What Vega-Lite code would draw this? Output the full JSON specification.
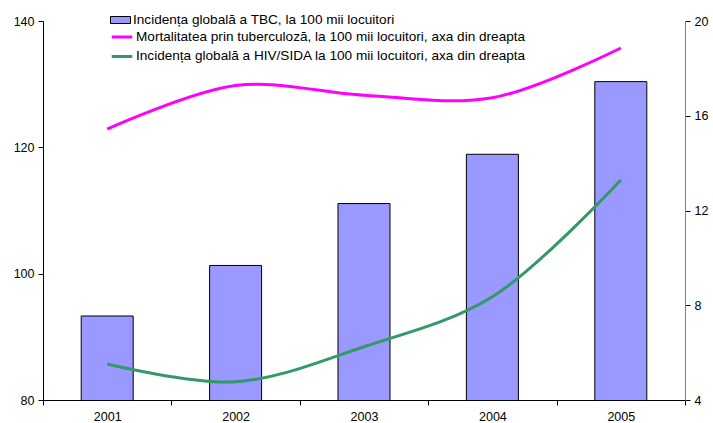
{
  "$schema": "https://vega.github.io/schema/vega-lite/v6.json",
  "width": 642,
  "height": 379,
  "autosize": "none",
  "padding": {"left": 43, "top": 21, "right": 28, "bottom": 23},
  "background": "white",
  "config": {
    "font": "Liberation Sans",
    "view": {"stroke": null},
    "axis": {
      "labelFont": "Liberation Sans",
      "labelFontSize": 12.5,
      "labelColor": "#000",
      "grid": false,
      "domainColor": "#000",
      "tickColor": "#000",
      "title": null
    },
    "legend": {"labelFont": "Liberation Sans", "labelFontSize": 13.6, "labelColor": "#000", "labelLimit": 0}
  },
  "datasets": {
    "bars": [
      {"year": "2001", "tbc": 93.3},
      {"year": "2002", "tbc": 101.3},
      {"year": "2003", "tbc": 111.1},
      {"year": "2004", "tbc": 118.9},
      {"year": "2005", "tbc": 130.4}
    ],
    "lines": [
      {"year": "2001", "series": "Mortalitatea prin tuberculoză, la 100 mii locuitori, axa din dreapta", "value": 15.44},
      {"year": "2002", "series": "Mortalitatea prin tuberculoză, la 100 mii locuitori, axa din dreapta", "value": 17.28},
      {"year": "2003", "series": "Mortalitatea prin tuberculoză, la 100 mii locuitori, axa din dreapta", "value": 16.87},
      {"year": "2004", "series": "Mortalitatea prin tuberculoză, la 100 mii locuitori, axa din dreapta", "value": 16.76},
      {"year": "2005", "series": "Mortalitatea prin tuberculoză, la 100 mii locuitori, axa din dreapta", "value": 18.86},
      {"year": "2001", "series": "Incidența globală a HIV/SIDA la 100 mii locuitori, axa din dreapta", "value": 5.52},
      {"year": "2002", "series": "Incidența globală a HIV/SIDA la 100 mii locuitori, axa din dreapta", "value": 4.77},
      {"year": "2003", "series": "Incidența globală a HIV/SIDA la 100 mii locuitori, axa din dreapta", "value": 6.25},
      {"year": "2004", "series": "Incidența globală a HIV/SIDA la 100 mii locuitori, axa din dreapta", "value": 8.36},
      {"year": "2005", "series": "Incidența globală a HIV/SIDA la 100 mii locuitori, axa din dreapta", "value": 13.29}
    ]
  },
  "layer": [
    {
      "data": {"name": "bars"},
      "mark": {"type": "bar", "stroke": "#000", "strokeWidth": 1, "width": {"band": 0.405}, "clip": true},
      "encoding": {
        "x": {
          "field": "year",
          "type": "ordinal",
          "scale": {"paddingInner": 0, "paddingOuter": 0},
          "axis": {"labelAngle": 0, "tickBand": "extent", "tickSize": 5, "labelPadding": 5, "labelBaseline": "top"}
        },
        "y": {
          "field": "tbc",
          "type": "quantitative",
          "scale": {"domain": [80, 140], "nice": false, "zero": false},
          "axis": {"values": [80, 100, 120, 140], "tickSize": 5, "labelPadding": 4}
        },
        "fill": {
          "datum": "Incidența globală a TBC, la 100 mii locuitori",
          "scale": {"range": ["#9999FF"]},
          "legend": {
            "orient": "none",
            "legendX": 67,
            "legendY": -9,
            "title": null,
            "symbolType": "M-1,-0.35H1V0.35H-1Z",
            "symbolSize": 400,
            "symbolStrokeColor": "#000",
            "symbolStrokeWidth": 1,
            "clipHeight": 16,
            "labelOffset": 2
          }
        }
      }
    },
    {
      "data": {"name": "lines"},
      "mark": {"type": "line", "interpolate": "catmull-rom", "strokeWidth": 3},
      "encoding": {
        "x": {"field": "year", "type": "ordinal"},
        "y": {
          "field": "value",
          "type": "quantitative",
          "scale": {"domain": [4, 20], "nice": false, "zero": false},
          "axis": {"orient": "right", "values": [4, 8, 12, 16, 20], "domainColor": "#808080", "tickSize": 5, "labelPadding": 4}
        },
        "stroke": {
          "field": "series",
          "type": "nominal",
          "sort": null,
          "scale": {
            "domain": [
              "Mortalitatea prin tuberculoză, la 100 mii locuitori, axa din dreapta",
              "Incidența globală a HIV/SIDA la 100 mii locuitori, axa din dreapta"
            ],
            "range": ["#FF00FF", "#339966"]
          },
          "legend": {
            "orient": "none",
            "legendX": 67,
            "legendY": 8,
            "title": null,
            "symbolType": "stroke",
            "symbolSize": 420,
            "symbolStrokeWidth": 3,
            "clipHeight": 16,
            "labelOffset": 2,
            "rowPadding": 3.4
          }
        }
      }
    }
  ],
  "resolve": {"scale": {"y": "independent", "fill": "independent", "stroke": "independent"}}
}
